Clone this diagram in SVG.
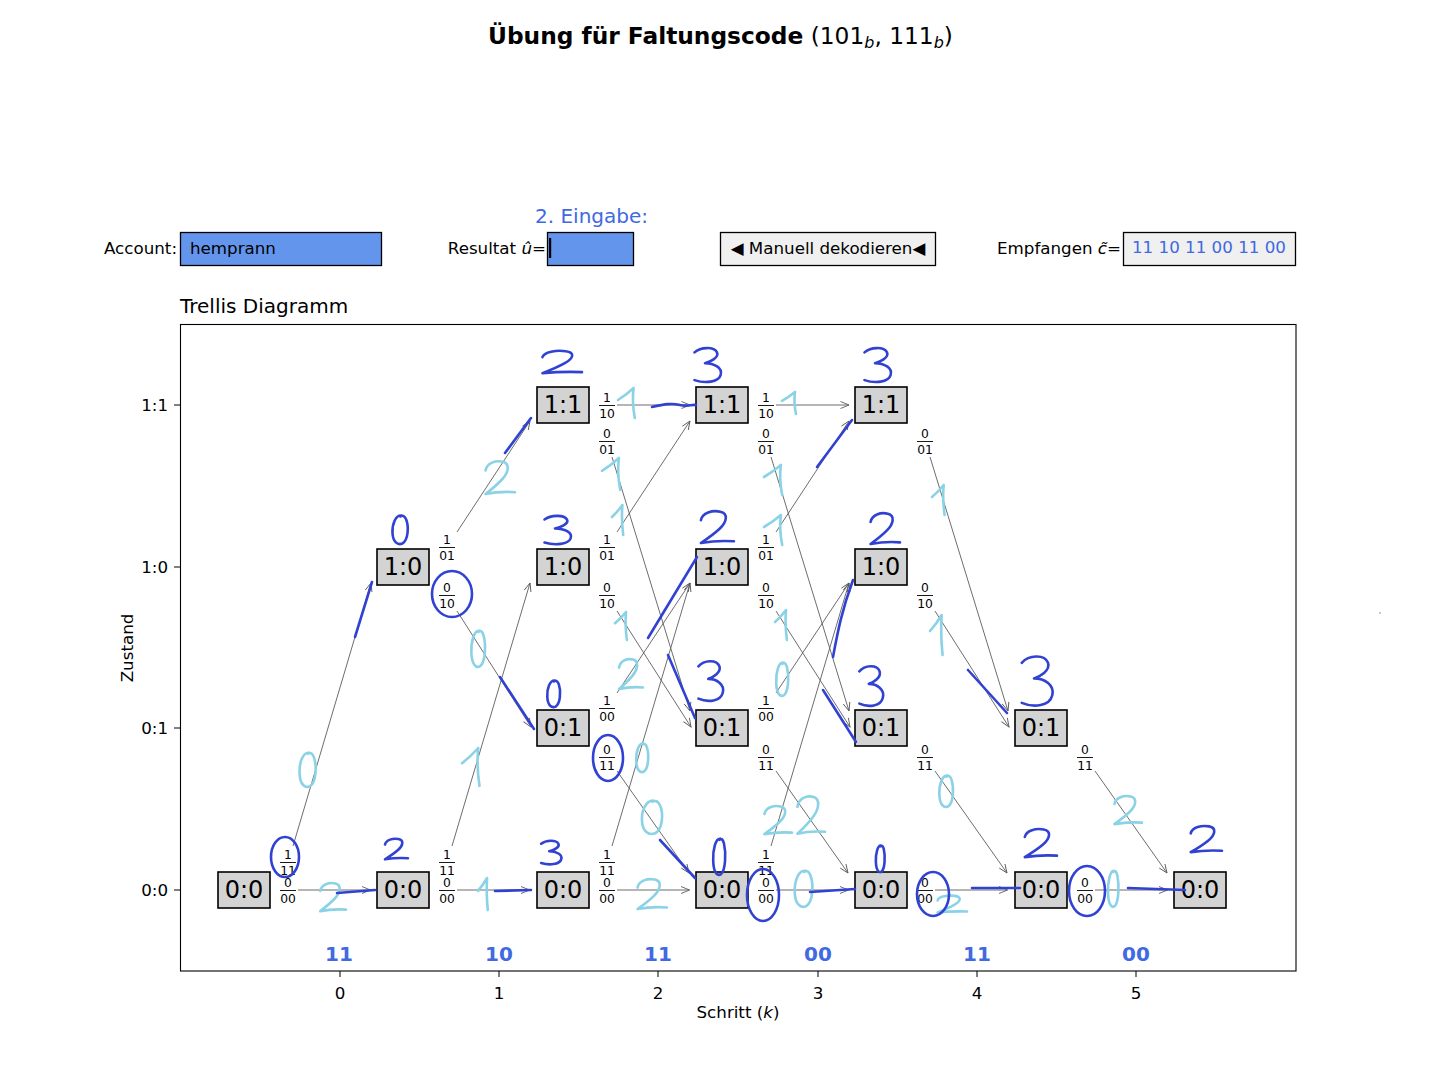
<svg xmlns="http://www.w3.org/2000/svg" width="1440" height="1080" viewBox="0 0 1440 1080">
<defs>
<style>
text{font-family:"DejaVu Sans","Liberation Sans",sans-serif;fill:#000;}
.tick{font-size:16.7px;}
.node rect{fill:#d3d3d3;stroke:#000;stroke-width:1.6;}
.node text{font-size:24px;text-anchor:middle;}
.frac text{font-size:12.3px;text-anchor:middle;}
.frac line{stroke:#000;stroke-width:0.9;}
#edges line{stroke:#5c5c5c;stroke-width:0.9;marker-end:url(#arr);}
.ink{fill:none;stroke:#3142d3;stroke-width:2.6;stroke-linecap:round;stroke-linejoin:round;}
.ink2{fill:none;stroke:#8ad2e6;stroke-width:2.6;stroke-linecap:round;stroke-linejoin:round;}
text.code{font-size:20px;font-weight:bold;fill:#4169e1;text-anchor:middle;}
text.blue{fill:#4169e1;}
</style>
<marker id="arr" markerUnits="userSpaceOnUse" markerWidth="10" markerHeight="8" refX="9" refY="4" orient="auto" viewBox="0 0 10 8">
<path d="M0.5,0.5 L9,4 L0.5,7.5" fill="none" stroke="#5c5c5c" stroke-width="0.9"/>
</marker>
<!-- freehand digit strokes in a 100x100 box -->
<path id="h2" vector-effect="non-scaling-stroke" d="M8,30 C12,8 40,0 62,5 C85,10 80,35 60,55 C45,70 25,85 8,97 C35,92 70,90 100,92"/>
<path id="h3" vector-effect="non-scaling-stroke" d="M5,15 C25,0 70,-2 80,15 C88,30 55,42 40,45 C70,45 100,58 92,78 C85,98 40,102 5,92"/>
<path id="h0" vector-effect="non-scaling-stroke" d="M55,2 C25,0 5,30 8,60 C10,90 35,102 60,95 C90,85 95,40 80,15 C72,3 62,0 50,5"/>
<path id="h1" vector-effect="non-scaling-stroke" d="M0,40 C20,30 45,15 65,0 C60,30 62,65 70,100"/>
</defs>

<rect width="1440" height="1080" fill="#fff"/>

<!-- title -->
<text x="488" y="44" font-size="23.3"><tspan font-weight="bold">Übung für Faltungscode</tspan> (101<tspan font-style="italic" font-size="16" dy="4">b</tspan><tspan dy="-4">, 111</tspan><tspan font-style="italic" font-size="16" dy="4">b</tspan><tspan dy="-4">)</tspan></text>

<!-- control row -->
<g id="account">
<text x="177" y="254" font-size="16.7" text-anchor="end">Account:</text>
<rect x="180.5" y="232.5" width="201" height="33" fill="#6495ed" stroke="#000" stroke-width="1.3"/>
<text x="190" y="254" font-size="16.7">hemprann</text>
</g>
<g id="result">
<text class="blue" x="535" y="223" font-size="20">2. Eingabe:</text>
<text x="546" y="254" font-size="16.7" text-anchor="end">Resultat <tspan font-style="italic">û</tspan>=</text>
<rect x="547.5" y="232.5" width="86" height="33" fill="#6495ed" stroke="#000" stroke-width="1.3"/>
<rect x="549" y="238" width="2.2" height="20" fill="#000"/>
</g>
<g id="decode-button">
<rect x="720.5" y="232.5" width="215" height="33" fill="#f0f0f0" stroke="#000" stroke-width="1.3"/>
<text x="828" y="254" font-size="16.7" text-anchor="middle">◀ Manuell dekodieren◀</text>
</g>
<g id="received">
<text x="1121" y="254" font-size="16.7" text-anchor="end">Empfangen <tspan font-style="italic">c̃</tspan>=</text>
<rect x="1123.5" y="232.5" width="172" height="33" fill="#f0f0f0" stroke="#000" stroke-width="1.3"/>
<text class="blue" x="1132" y="253" font-size="16.7">11 10 11 00 11 00</text>
</g>

<!-- axes -->
<text x="180" y="313" font-size="20">Trellis Diagramm</text>
<rect x="180.5" y="324.5" width="1115.5" height="646.5" fill="none" stroke="#000" stroke-width="1.1"/>
<g id="yticks" stroke="#000" stroke-width="1">
<line x1="174" y1="405" x2="180" y2="405"/><line x1="174" y1="567" x2="180" y2="567"/>
<line x1="174" y1="728" x2="180" y2="728"/><line x1="174" y1="890" x2="180" y2="890"/>
</g>
<g class="tick" text-anchor="end">
<text x="168" y="411">1:1</text><text x="168" y="573">1:0</text>
<text x="168" y="734">0:1</text><text x="168" y="896">0:0</text>
</g>
<text transform="translate(133,648) rotate(-90)" font-size="16.7" text-anchor="middle">Zustand</text>
<g id="xticks" stroke="#000" stroke-width="1">
<line x1="340" y1="971" x2="340" y2="977"/><line x1="499" y1="971" x2="499" y2="977"/>
<line x1="658" y1="971" x2="658" y2="977"/><line x1="818" y1="971" x2="818" y2="977"/>
<line x1="977" y1="971" x2="977" y2="977"/><line x1="1136" y1="971" x2="1136" y2="977"/>
</g>
<g class="tick" text-anchor="middle">
<text x="340" y="999">0</text><text x="499" y="999">1</text><text x="658" y="999">2</text>
<text x="818" y="999">3</text><text x="977" y="999">4</text><text x="1136" y="999">5</text>
</g>
<text x="738" y="1018" font-size="16.7" text-anchor="middle">Schritt (<tspan font-style="italic">k</tspan>)</text>

<!-- received code words per step -->
<g id="codes">
<text class="code" x="339" y="961">11</text><text class="code" x="499" y="961">10</text>
<text class="code" x="658" y="961">11</text><text class="code" x="818" y="961">00</text>
<text class="code" x="977" y="961">11</text><text class="code" x="1136" y="961">00</text>
</g>

<!-- connectors -->
<g id="edges">
<line x1="298" y1="890" x2="370.5" y2="890"/>
<line x1="293" y1="846" x2="371" y2="583"/>
<line x1="457" y1="890" x2="529.5" y2="890"/>
<line x1="452" y1="846" x2="530" y2="583"/>
<line x1="457" y1="532" x2="530" y2="421"/>
<line x1="457" y1="611" x2="531" y2="727"/>
<line x1="617" y1="890" x2="689.5" y2="890"/>
<line x1="612" y1="846" x2="690" y2="583"/>
<line x1="617" y1="532" x2="690" y2="421"/>
<line x1="617" y1="611" x2="691" y2="727"/>
<line x1="617" y1="405" x2="690" y2="405"/>
<line x1="612" y1="457" x2="690" y2="711"/>
<line x1="617" y1="693" x2="690" y2="583"/>
<line x1="617" y1="771" x2="689" y2="873"/>
<line x1="776" y1="890" x2="848.5" y2="890"/>
<line x1="771" y1="846" x2="849" y2="583"/>
<line x1="776" y1="532" x2="849" y2="421"/>
<line x1="776" y1="611" x2="850" y2="727"/>
<line x1="776" y1="405" x2="849" y2="405"/>
<line x1="771" y1="457" x2="849" y2="711"/>
<line x1="776" y1="693" x2="849" y2="583"/>
<line x1="776" y1="771" x2="848" y2="873"/>
<line x1="935" y1="890" x2="1007.5" y2="890"/>
<line x1="935" y1="611" x2="1009" y2="727"/>
<line x1="930" y1="457" x2="1008" y2="711"/>
<line x1="935" y1="771" x2="1007" y2="873"/>
<line x1="1095" y1="890" x2="1167.5" y2="890"/>
<line x1="1095" y1="771" x2="1167" y2="873"/>
</g>

<!-- branch labels: input / output bits -->
<g id="labels">
<g class="frac" transform="translate(288,890)"><text y="-3.5">0</text><line x1="-8" y1="0.5" x2="8" y2="0.5"/><text y="13">00</text></g>
<g class="frac" transform="translate(288,862)"><text y="-3.5">1</text><line x1="-8" y1="0.5" x2="8" y2="0.5"/><text y="13">11</text></g>
<g class="frac" transform="translate(447,890)"><text y="-3.5">0</text><line x1="-8" y1="0.5" x2="8" y2="0.5"/><text y="13">00</text></g>
<g class="frac" transform="translate(447,862)"><text y="-3.5">1</text><line x1="-8" y1="0.5" x2="8" y2="0.5"/><text y="13">11</text></g>
<g class="frac" transform="translate(447,547)"><text y="-3.5">1</text><line x1="-8" y1="0.5" x2="8" y2="0.5"/><text y="13">01</text></g>
<g class="frac" transform="translate(447,595)"><text y="-3.5">0</text><line x1="-8" y1="0.5" x2="8" y2="0.5"/><text y="13">10</text></g>
<g class="frac" transform="translate(607,890)"><text y="-3.5">0</text><line x1="-8" y1="0.5" x2="8" y2="0.5"/><text y="13">00</text></g>
<g class="frac" transform="translate(607,862)"><text y="-3.5">1</text><line x1="-8" y1="0.5" x2="8" y2="0.5"/><text y="13">11</text></g>
<g class="frac" transform="translate(607,547)"><text y="-3.5">1</text><line x1="-8" y1="0.5" x2="8" y2="0.5"/><text y="13">01</text></g>
<g class="frac" transform="translate(607,595)"><text y="-3.5">0</text><line x1="-8" y1="0.5" x2="8" y2="0.5"/><text y="13">10</text></g>
<g class="frac" transform="translate(607,405)"><text y="-3.5">1</text><line x1="-8" y1="0.5" x2="8" y2="0.5"/><text y="13">10</text></g>
<g class="frac" transform="translate(607,441)"><text y="-3.5">0</text><line x1="-8" y1="0.5" x2="8" y2="0.5"/><text y="13">01</text></g>
<g class="frac" transform="translate(607,708)"><text y="-3.5">1</text><line x1="-8" y1="0.5" x2="8" y2="0.5"/><text y="13">00</text></g>
<g class="frac" transform="translate(607,757)"><text y="-3.5">0</text><line x1="-8" y1="0.5" x2="8" y2="0.5"/><text y="13">11</text></g>
<g class="frac" transform="translate(766,890)"><text y="-3.5">0</text><line x1="-8" y1="0.5" x2="8" y2="0.5"/><text y="13">00</text></g>
<g class="frac" transform="translate(766,862)"><text y="-3.5">1</text><line x1="-8" y1="0.5" x2="8" y2="0.5"/><text y="13">11</text></g>
<g class="frac" transform="translate(766,547)"><text y="-3.5">1</text><line x1="-8" y1="0.5" x2="8" y2="0.5"/><text y="13">01</text></g>
<g class="frac" transform="translate(766,595)"><text y="-3.5">0</text><line x1="-8" y1="0.5" x2="8" y2="0.5"/><text y="13">10</text></g>
<g class="frac" transform="translate(766,405)"><text y="-3.5">1</text><line x1="-8" y1="0.5" x2="8" y2="0.5"/><text y="13">10</text></g>
<g class="frac" transform="translate(766,441)"><text y="-3.5">0</text><line x1="-8" y1="0.5" x2="8" y2="0.5"/><text y="13">01</text></g>
<g class="frac" transform="translate(766,708)"><text y="-3.5">1</text><line x1="-8" y1="0.5" x2="8" y2="0.5"/><text y="13">00</text></g>
<g class="frac" transform="translate(766,757)"><text y="-3.5">0</text><line x1="-8" y1="0.5" x2="8" y2="0.5"/><text y="13">11</text></g>
<g class="frac" transform="translate(925,890)"><text y="-3.5">0</text><line x1="-8" y1="0.5" x2="8" y2="0.5"/><text y="13">00</text></g>
<g class="frac" transform="translate(925,595)"><text y="-3.5">0</text><line x1="-8" y1="0.5" x2="8" y2="0.5"/><text y="13">10</text></g>
<g class="frac" transform="translate(925,441)"><text y="-3.5">0</text><line x1="-8" y1="0.5" x2="8" y2="0.5"/><text y="13">01</text></g>
<g class="frac" transform="translate(925,757)"><text y="-3.5">0</text><line x1="-8" y1="0.5" x2="8" y2="0.5"/><text y="13">11</text></g>
<g class="frac" transform="translate(1085,890)"><text y="-3.5">0</text><line x1="-8" y1="0.5" x2="8" y2="0.5"/><text y="13">00</text></g>
<g class="frac" transform="translate(1085,757)"><text y="-3.5">0</text><line x1="-8" y1="0.5" x2="8" y2="0.5"/><text y="13">11</text></g>
</g>

<!-- trellis states -->
<g id="n0-00" class="node"><rect x="218" y="872" width="52" height="36"/><text x="244" y="898">0:0</text></g>
<g id="n1-10" class="node"><rect x="377" y="549" width="52" height="36"/><text x="403" y="575">1:0</text></g>
<g id="n1-00" class="node"><rect x="377" y="872" width="52" height="36"/><text x="403" y="898">0:0</text></g>
<g id="n2-11" class="node"><rect x="537" y="387" width="52" height="36"/><text x="563" y="413">1:1</text></g>
<g id="n2-10" class="node"><rect x="537" y="549" width="52" height="36"/><text x="563" y="575">1:0</text></g>
<g id="n2-01" class="node"><rect x="537" y="710" width="52" height="36"/><text x="563" y="736">0:1</text></g>
<g id="n2-00" class="node"><rect x="537" y="872" width="52" height="36"/><text x="563" y="898">0:0</text></g>
<g id="n3-11" class="node"><rect x="696" y="387" width="52" height="36"/><text x="722" y="413">1:1</text></g>
<g id="n3-10" class="node"><rect x="696" y="549" width="52" height="36"/><text x="722" y="575">1:0</text></g>
<g id="n3-01" class="node"><rect x="696" y="710" width="52" height="36"/><text x="722" y="736">0:1</text></g>
<g id="n3-00" class="node"><rect x="696" y="872" width="52" height="36"/><text x="722" y="898">0:0</text></g>
<g id="n4-11" class="node"><rect x="855" y="387" width="52" height="36"/><text x="881" y="413">1:1</text></g>
<g id="n4-10" class="node"><rect x="855" y="549" width="52" height="36"/><text x="881" y="575">1:0</text></g>
<g id="n4-01" class="node"><rect x="855" y="710" width="52" height="36"/><text x="881" y="736">0:1</text></g>
<g id="n4-00" class="node"><rect x="855" y="872" width="52" height="36"/><text x="881" y="898">0:0</text></g>
<g id="n5-01" class="node"><rect x="1015" y="710" width="52" height="36"/><text x="1041" y="736">0:1</text></g>
<g id="n5-00" class="node"><rect x="1015" y="872" width="52" height="36"/><text x="1041" y="898">0:0</text></g>
<g id="n6-00" class="node"><rect x="1174" y="872" width="52" height="36"/><text x="1200" y="898">0:0</text></g>

<!-- pen marks: branch metrics (light) -->
<g class="ink2">
<use href="#h2" transform="translate(318,882) scale(.28,.30)"/>
<use href="#h0" transform="translate(298,752) scale(.20,.36)"/>
<use href="#h1" transform="translate(478,878) scale(.14,.32)"/>
<use href="#h1" transform="translate(462,748) scale(.25,.38)"/>
<use href="#h2" transform="translate(483,460) scale(.32,.35)"/>
<use href="#h0" transform="translate(470,630) scale(.17,.38)"/>
<use href="#h1" transform="translate(618,388) scale(.24,.30)"/>
<use href="#h1" transform="translate(602,458) scale(.26,.32)"/>
<use href="#h1" transform="translate(612,505) scale(.16,.30)"/>
<use href="#h1" transform="translate(615,612) scale(.17,.28)"/>
<use href="#h2" transform="translate(617,658) scale(.26,.32)"/>
<use href="#h0" transform="translate(635,743) scale(.15,.30)"/>
<use href="#h0" transform="translate(640,800) scale(.25,.35)"/>
<use href="#h2" transform="translate(635,878) scale(.32,.32)"/>
<use href="#h1" transform="translate(782,392) scale(.20,.22)"/>
<use href="#h1" transform="translate(764,465) scale(.26,.30)"/>
<use href="#h1" transform="translate(764,515) scale(.26,.30)"/>
<use href="#h1" transform="translate(775,610) scale(.17,.30)"/>
<use href="#h0" transform="translate(775,662) scale(.15,.35)"/>
<use href="#h2" transform="translate(795,795) scale(.30,.40)"/>
<use href="#h2" transform="translate(762,805) scale(.30,.30)"/>
<use href="#h0" transform="translate(793,870) scale(.22,.38)"/>
<use href="#h1" transform="translate(932,485) scale(.18,.30)"/>
<use href="#h1" transform="translate(930,615) scale(.18,.40)"/>
<use href="#h0" transform="translate(938,775) scale(.17,.33)"/>
<use href="#h2" transform="translate(935,895) scale(.32,.18)"/>
<use href="#h2" transform="translate(1112,795) scale(.30,.30)"/>
<use href="#h0" transform="translate(1107,870) scale(.13,.38)"/>
</g>

<!-- pen marks: path metrics and survivors (dark) -->
<g class="ink">
<ellipse cx="285" cy="857" rx="14" ry="20"/>
<ellipse cx="452" cy="594" rx="20" ry="23"/>
<ellipse cx="608" cy="758" rx="15" ry="23"/>
<ellipse cx="763" cy="895" rx="16" ry="26"/>
<ellipse cx="933" cy="894" rx="16" ry="22"/>
<ellipse cx="1087" cy="891" rx="18" ry="25"/>
<use href="#h2" transform="translate(383,838) scale(.25,.22)"/>
<use href="#h0" transform="translate(391,515) scale(.19,.30)"/>
<use href="#h0" transform="translate(546,680) scale(.16,.28)"/>
<use href="#h2" transform="translate(539,350) scale(.43,.24)"/>
<use href="#h3" transform="translate(540,840) scale(.23,.25)"/>
<use href="#h3" transform="translate(543,515) scale(.30,.30)"/>
<use href="#h0" transform="translate(712,838) scale(.15,.38)"/>
<use href="#h2" transform="translate(698,510) scale(.36,.34)"/>
<use href="#h3" transform="translate(697,660) scale(.28,.42)"/>
<use href="#h3" transform="translate(693,347) scale(.30,.36)"/>
<use href="#h3" transform="translate(863,347) scale(.30,.36)"/>
<use href="#h2" transform="translate(868,512) scale(.32,.33)"/>
<use href="#h0" transform="translate(875,845) scale(.11,.28)"/>
<use href="#h2" transform="translate(1022,828) scale(.35,.30)"/>
<use href="#h2" transform="translate(1188,825) scale(.34,.28)"/>
<use href="#h3" transform="translate(1020,655) scale(.35,.52)"/>
<use href="#h3" transform="translate(858,665) scale(.27,.42)"/>
<path d="M337,893 L375,890"/>
<path d="M495,891 L531,890"/>
<path d="M355,637 L372,582"/>
<path d="M500,677 L534,729"/>
<path d="M505,453 L531,418"/>
<path d="M648,638 L697,557"/>
<path d="M652,407 C665,404 672,403 680,405 C688,407 692,404 696,405"/>
<path d="M817,467 L852,420"/>
<path d="M833,657 C838,630 842,610 853,580"/>
<path d="M810,892 L855,889"/>
<path d="M972,888 L1020,888"/>
<path d="M1128,888 L1185,890"/>
<path d="M968,670 L1007,713"/>
<path d="M660,840 L695,878"/>
<path d="M668,655 L695,718"/>
<path d="M823,690 L856,742"/>
</g>

<circle cx="1380" cy="613" r="0.8" fill="#888"/>
</svg>
